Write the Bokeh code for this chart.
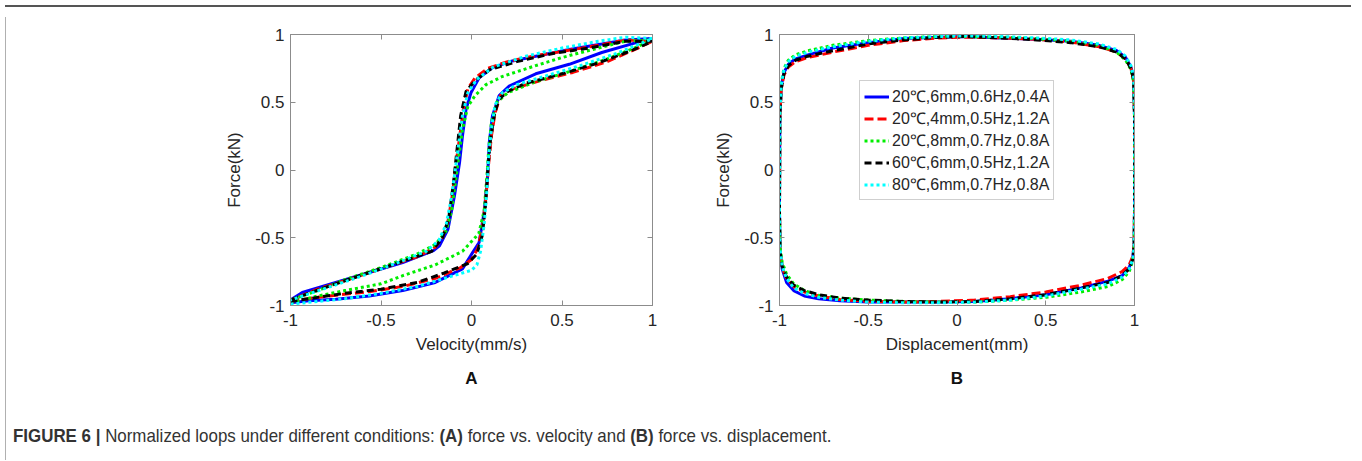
from bokeh.plotting import figure
from bokeh.models import LinearAxis, FixedTicker, Legend, LegendItem, Title, Div
from bokeh.layouts import row, column
from bokeh.embed import file_html
from bokeh.resources import INLINE

# ---------------- data ----------------
tick_values = [-1.0, -0.5, 0.0, 0.5, 1.0]
tick_labels = ["-1", "-0.5", "0", "0.5", "1"]

series_names = ["20℃,6mm,0.6Hz,0.4A", "20℃,4mm,0.5Hz,1.2A", "20℃,8mm,0.7Hz,0.8A",
                "60℃,6mm,0.5Hz,1.2A", "80℃,6mm,0.7Hz,0.8A"]

# Panel A: force vs velocity (normalized)
blue_a_v = [-1.0, -0.90, -0.75, -0.565, -0.38, -0.20, -0.05, 0.006, 0.042, 0.07,
            0.088, 0.098, 0.116, 0.153, 0.208, 0.355, 0.54, 0.72, 0.91, 1.0,
            0.85, 0.72, 0.54, 0.355, 0.226, 0.116, 0.042, -0.003, -0.03, -0.05,
            -0.066, -0.094, -0.13, -0.177, -0.21, -0.38, -0.565, -0.75, -0.935, -1.0]
blue_a_f = [-0.98, -0.965, -0.953, -0.93, -0.89, -0.83, -0.73, -0.61, -0.535, -0.31,
            -0.07, 0.20, 0.40, 0.55, 0.62, 0.71, 0.78, 0.867, 0.94, 0.97,
            0.96, 0.93, 0.89, 0.84, 0.805, 0.756, 0.68, 0.57, 0.45, 0.25,
            0.055, -0.19, -0.437, -0.56, -0.595, -0.683, -0.756, -0.83, -0.904, -0.96]

red_a_v = [-1.0, -0.88, -0.72, -0.55, -0.38, -0.2, -0.06, 0.0, 0.035, 0.06,
           0.08, 0.095, 0.11, 0.13, 0.16, 0.23, 0.38, 0.56, 0.75, 0.92, 1.0,
           0.85, 0.7, 0.52, 0.34, 0.2, 0.09, 0.02, -0.02, -0.045, -0.065,
           -0.085, -0.105, -0.13, -0.16, -0.2, -0.3, -0.48, -0.66, -0.85, -1.0]
red_a_f = [-0.97, -0.945, -0.92, -0.895, -0.86, -0.8, -0.72, -0.66, -0.58, -0.42,
           -0.2, 0.05, 0.25, 0.42, 0.55, 0.6, 0.66, 0.72, 0.8, 0.9, 0.95,
           0.96, 0.92, 0.88, 0.84, 0.8, 0.75, 0.68, 0.6, 0.45, 0.25,
           0.05, -0.18, -0.38, -0.5, -0.57, -0.64, -0.72, -0.8, -0.88, -0.96]

green_a_v = [-1.0, -0.85, -0.7, -0.5, -0.38, -0.2, -0.05, 0.04, 0.07, 0.085,
             0.095, 0.11, 0.14, 0.2, 0.35, 0.55, 0.75, 0.9, 1.0,
             0.85, 0.7, 0.5, 0.354, 0.17, 0.08, 0.02, -0.02, -0.05, -0.07,
             -0.09, -0.11, -0.14, -0.2, -0.3, -0.5, -0.7, -0.85, -1.0]
green_a_f = [-0.98, -0.93, -0.89, -0.84, -0.78, -0.70, -0.6, -0.47, -0.3, -0.05,
             0.15, 0.35, 0.5, 0.57, 0.65, 0.73, 0.82, 0.9, 0.96,
             0.95, 0.9, 0.83, 0.77, 0.69, 0.63, 0.55, 0.47, 0.3, 0.1,
             -0.1, -0.3, -0.45, -0.55, -0.62, -0.72, -0.81, -0.89, -0.96]

black_a_v = [-1.0, -0.85, -0.7, -0.5, -0.3, -0.15, -0.02, 0.03, 0.06, 0.078,
             0.09, 0.105, 0.125, 0.15, 0.2, 0.3, 0.5, 0.7, 0.88, 1.0,
             0.85, 0.65, 0.45, 0.25, 0.1, 0.02, -0.03, -0.06, -0.08,
             -0.1, -0.125, -0.16, -0.22, -0.35, -0.55, -0.75, -0.9, -1.0]
black_a_f = [-0.97, -0.94, -0.91, -0.88, -0.83, -0.76, -0.69, -0.62, -0.48, -0.25,
             0.0, 0.22, 0.4, 0.52, 0.58, 0.64, 0.71, 0.79, 0.88, 0.95,
             0.95, 0.9, 0.86, 0.8, 0.74, 0.66, 0.58, 0.4, 0.15,
             -0.1, -0.35, -0.5, -0.6, -0.66, -0.75, -0.84, -0.91, -0.96]

cyan_a_v = [-1.0, -0.85, -0.7, -0.5, -0.3, -0.15, 0.0, 0.03, 0.05, 0.07,
            0.085, 0.095, 0.11, 0.13, 0.17, 0.25, 0.4, 0.6, 0.8, 1.0,
            0.85, 0.7, 0.5, 0.3, 0.12, 0.03, -0.02, -0.05, -0.07,
            -0.09, -0.11, -0.14, -0.18, -0.25, -0.4, -0.6, -0.8, -1.0]
cyan_a_f = [-0.99, -0.97, -0.95, -0.91, -0.86, -0.8, -0.74, -0.7, -0.6, -0.4,
            -0.15, 0.1, 0.3, 0.48, 0.57, 0.63, 0.69, 0.77, 0.86, 0.97,
            0.98, 0.95, 0.9, 0.84, 0.76, 0.67, 0.57, 0.4, 0.2,
            0.0, -0.2, -0.4, -0.52, -0.6, -0.68, -0.78, -0.87, -0.96]

# Panel B: force vs displacement (normalized)
b_disp = [-1.0, -0.998, -0.99, -0.975, -0.95, -0.91, -0.84, -0.7, -0.5, -0.3,
          -0.1, 0.05, 0.25, 0.45, 0.64, 0.8, 0.9, 0.95, 0.98, 0.995,
          1.0, 1.0, 0.998, 0.99, 0.97, 0.93, 0.85, 0.7, 0.5, 0.3,
          0.1, -0.1, -0.3, -0.5, -0.66, -0.78, -0.86, -0.92, -0.96, -0.985,
          -0.997, -1.0]
blue_b_f = [-0.3, 0.4, 0.62, 0.72, 0.78, 0.82, 0.85, 0.9, 0.94, 0.97,
            0.98, 0.985, 0.975, 0.965, 0.95, 0.92, 0.88, 0.83, 0.76, 0.68,
            0.4, -0.3, -0.55, -0.65, -0.72, -0.78, -0.82, -0.87, -0.92, -0.95,
            -0.97, -0.975, -0.975, -0.975, -0.965, -0.95, -0.93, -0.89, -0.83, -0.73,
            -0.6, -0.3]
red_b_f = [-0.3, 0.4, 0.6, 0.7, 0.76, 0.8, 0.83, 0.87, 0.92, 0.955,
           0.975, 0.98, 0.975, 0.965, 0.945, 0.91, 0.87, 0.82, 0.75, 0.66,
           0.4, -0.3, -0.55, -0.64, -0.7, -0.75, -0.8, -0.85, -0.9, -0.935,
           -0.96, -0.97, -0.975, -0.97, -0.955, -0.93, -0.9, -0.86, -0.8, -0.72,
           -0.6, -0.3]
green_b_f = [-0.3, 0.42, 0.64, 0.75, 0.81, 0.85, 0.88, 0.92, 0.955, 0.975,
             0.985, 0.985, 0.98, 0.97, 0.95, 0.92, 0.87, 0.81, 0.74, 0.65,
             0.4, -0.3, -0.57, -0.67, -0.75, -0.81, -0.86, -0.9, -0.94, -0.96,
             -0.975, -0.975, -0.97, -0.96, -0.945, -0.925, -0.89, -0.84, -0.77, -0.68,
             -0.57, -0.3]
black_b_f = [-0.3, 0.4, 0.6, 0.71, 0.77, 0.81, 0.84, 0.88, 0.93, 0.96,
             0.98, 0.985, 0.975, 0.96, 0.94, 0.91, 0.87, 0.82, 0.75, 0.67,
             0.4, -0.3, -0.56, -0.66, -0.73, -0.78, -0.83, -0.87, -0.92, -0.95,
             -0.97, -0.975, -0.97, -0.96, -0.945, -0.92, -0.89, -0.85, -0.79, -0.71,
             -0.6, -0.3]
cyan_b_f = [-0.3, 0.42, 0.63, 0.74, 0.8, 0.84, 0.87, 0.91, 0.95, 0.975,
            0.985, 0.99, 0.985, 0.975, 0.96, 0.93, 0.89, 0.84, 0.77, 0.69,
            0.4, -0.3, -0.56, -0.66, -0.73, -0.79, -0.84, -0.88, -0.93, -0.96,
            -0.975, -0.98, -0.98, -0.975, -0.96, -0.94, -0.91, -0.87, -0.8, -0.71,
            -0.58, -0.3]

# ---------------- styles ----------------
colors = ["#0000ff", "#ff0000", "#00ee00", "#000000", "#00ffff"]
dashes = ["solid", "9 4", "3 3", "7 4", "3 3"]
FONT = "Liberation Sans"
AX_COL = "#8c8c8c"
TXT_COL = "#262626"


def style_axis(ax, show):
    ax.ticker = FixedTicker(ticks=tick_values)
    ax.axis_line_color = AX_COL
    ax.major_tick_line_color = AX_COL
    ax.major_tick_in = 5
    ax.major_tick_out = 0
    ax.minor_tick_line_color = None
    if show:
        ax.major_label_overrides = {float(t): s for t, s in zip(tick_values, tick_labels)}
        ax.major_label_text_font = FONT
        ax.major_label_text_color = TXT_COL
        ax.major_label_text_font_size = "17px"
    else:
        # mirrored box ticks only, no labels drawn
        ax.major_label_text_color = None
        ax.major_label_text_alpha = 0
        ax.major_label_text_font_size = "1px"
        ax.major_label_standoff = 0
    ax.axis_label_text_font = FONT
    ax.axis_label_text_font_size = "17px"
    ax.axis_label_text_font_style = "normal"
    ax.axis_label_text_color = TXT_COL


def make_fig(width, left, right, xlabel, panel):
    p = figure(width=width, height=398, x_range=(-1, 1), y_range=(-1, 1),
               output_backend="svg", toolbar_location=None,
               min_border_left=left, min_border_right=right,
               min_border_top=22, min_border_bottom=105)
    p.xgrid.visible = False
    p.ygrid.visible = False
    p.outline_line_color = AX_COL
    p.background_fill_color = "white"
    p.border_fill_color = "white"
    style_axis(p.xaxis[0], True)
    style_axis(p.yaxis[0], True)
    p.xaxis[0].axis_label = xlabel
    p.yaxis[0].axis_label = "Force(kN)"
    p.xaxis[0].major_label_standoff = 8
    p.xaxis[0].axis_label_standoff = 6
    p.yaxis[0].major_label_standoff = 6
    p.yaxis[0].axis_label_standoff = 8
    top = LinearAxis()
    style_axis(top, False)
    p.add_layout(top, "above")
    rgt = LinearAxis()
    style_axis(rgt, False)
    p.add_layout(rgt, "right")
    p.add_layout(Title(text=panel, align="center", text_font=FONT,
                       text_font_size="17px", text_font_style="bold",
                       text_color="#111111", standoff=20), "below")
    return p


pA = make_fig(700, 279, 59, "Velocity(mm/s)", "A")
pB = make_fig(644, 62, 221, "Displacement(mm)", "B")

a_series = [(blue_a_v, blue_a_f), (red_a_v, red_a_f), (green_a_v, green_a_f),
            (black_a_v, black_a_f), (cyan_a_v, cyan_a_f)]
b_series = [blue_b_f, red_b_f, green_b_f, black_b_f, cyan_b_f]

items = []
for i, (vv, ff) in enumerate(a_series):
    pA.line(vv, ff, line_color=colors[i], line_width=3, line_dash=dashes[i])
for i, ff in enumerate(b_series):
    r = pB.line(b_disp, ff, line_color=colors[i], line_width=3, line_dash=dashes[i])
    items.append(LegendItem(label=series_names[i], renderers=[r]))

legend = Legend(items=items, location=(80, 105), label_text_font=FONT,
                label_text_font_size="16px", label_text_color=TXT_COL,
                glyph_width=25, glyph_height=21, label_height=21,
                spacing=0, padding=4, margin=0, label_standoff=3,
                border_line_color="#a0a0a0", background_fill_color="white")
pB.add_layout(legend)

caption_html = (
    '<div style="font-family:\'Liberation Sans Narrow\',\'Liberation Sans\',sans-serif;'
    'font-size:19px;color:#333333;margin:7px 0 0 -3px;white-space:nowrap;'
    'transform:scaleX(0.89);transform-origin:left center;">'
    '<b>FIGURE 6 |</b> Normalized loops under different conditions: '
    '<b>(A)</b> force vs. velocity and <b>(B)</b> force vs. displacement.</div>'
)
caption = Div(text=caption_html, width=1344, height=45)

top_line = Div(text="", width=1346, height=2, styles={"background-color": "#555555"})
left_line = Div(text="", width=1, height=443, styles={"background-color": "#b0b0b0"})
right_line = Div(text="", width=1, height=443, styles={"background-color": "#b0b0b0"})

inner = column(row(pA, pB), caption)
page = column(top_line, row(left_line, inner, right_line))

open("out.html", "w").write(file_html(page, INLINE))
